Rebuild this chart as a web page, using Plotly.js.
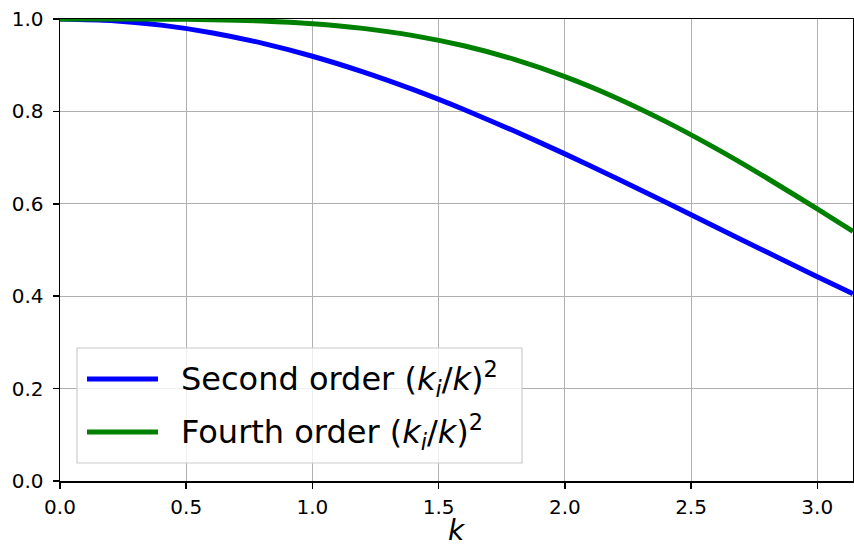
<!DOCTYPE html>
<html>
<head>
<meta charset="utf-8">
<script src="https://cdn.plot.ly/plotly-3.0.1.min.js"></script>
<style>html,body{margin:0;padding:0;background:#fff;}#chart{width:854px;height:547px;}</style>
</head>
<body>
<div id="chart"></div>
<script>
const kValues = [0, 0.2, 0.4, 0.6, 0.8, 1.0, 1.2, 1.4, 1.6, 1.8, 2.0, 2.2, 2.4, 2.6, 2.8, 3.0, 3.14159];
const secondOrder = [1.0, 0.9967, 0.9867, 0.9704, 0.9478, 0.9194, 0.8856, 0.8470, 0.8041, 0.7575, 0.7081, 0.6564, 0.6033, 0.5494, 0.4955, 0.4422, 0.4053];
const fourthOrder = [1.0, 1.0, 0.9997, 0.9986, 0.9957, 0.9898, 0.9797, 0.9641, 0.9420, 0.9125, 0.8752, 0.8302, 0.7779, 0.7194, 0.6558, 0.5889, 0.5404];
const seriesNames = ['Second order (<i>k<sub>i</sub></i>/<i>k</i>)<sup>2</sup>', 'Fourth order (<i>k<sub>i</sub></i>/<i>k</i>)<sup>2</sup>'];
const xTicks = [0, 0.5, 1.0, 1.5, 2.0, 2.5, 3.0];
const yTicks = [0, 0.2, 0.4, 0.6, 0.8, 1.0];
const xAxisLabel = '<i>k</i>';

const colors = ['#0000ff', '#008000'];
const traces = [secondOrder, fourthOrder].map((ys, i) => ({
  x: kValues, y: ys, type: 'scatter', mode: 'lines',
  line: {color: colors[i], width: 5, shape: 'spline', smoothing: 0.6},
  name: seriesNames[i], showlegend: false, hoverinfo: 'skip'
}));

const L = 60, T = 19, W = 793, H = 462;
const px = x => (x - L) / W;
const py = y => (T + H - y) / H;

const shapes = [
  {type: 'rect', xref: 'paper', yref: 'paper', x0: px(77), x1: px(522), y0: py(463), y1: py(348),
   fillcolor: 'rgba(255,255,255,0.8)', line: {color: '#cccccc', width: 1.2}, layer: 'above'}
];
const annotations = [];
const rowsY = [379, 432];
seriesNames.forEach((n, i) => {
  shapes.push({type: 'line', xref: 'paper', yref: 'paper', x0: px(87), x1: px(158), y0: py(rowsY[i]), y1: py(rowsY[i]),
    line: {color: colors[i], width: 5}, layer: 'above'});
  annotations.push({xref: 'paper', yref: 'paper', x: px(179), y: py(rowsY[i]), xanchor: 'left', yanchor: 'middle',
    text: n, showarrow: false, font: {family: 'DejaVu Sans', size: 32, color: '#000'}});
});
annotations.push({xref: 'paper', yref: 'paper', x: 0.5, y: py(530), xanchor: 'center', yanchor: 'middle', borderpad: 0,
  text: xAxisLabel, showarrow: false, font: {family: 'DejaVu Sans', size: 28, color: '#000'}});

const axisCommon = {
  showline: true, mirror: true, linecolor: '#000', linewidth: 1.5,
  ticks: 'outside', ticklen: 6, tickwidth: 1.5, tickcolor: '#000',
  showgrid: true, gridcolor: '#b0b0b0', gridwidth: 1, zeroline: false,
  tickfont: {family: 'DejaVu Sans', size: 20, color: '#000'}, tickformat: '.1f'
};

const layout = {
  width: 854, height: 547,
  margin: {l: L, r: 854 - L - W, t: T, b: 547 - T - H},
  paper_bgcolor: '#fff', plot_bgcolor: '#fff',
  font: {family: 'DejaVu Sans', size: 20, color: '#000'},
  xaxis: Object.assign({}, axisCommon, {range: [0, Math.PI], tickvals: xTicks, ticklabelstandoff: 1}),
  yaxis: Object.assign({}, axisCommon, {range: [0, 1], tickvals: yTicks, ticklabelstandoff: 5}),
  shapes: shapes, annotations: annotations, showlegend: false
};

Plotly.newPlot('chart', traces, layout, {displayModeBar: false, staticPlot: true});
</script>
</body>
</html>
